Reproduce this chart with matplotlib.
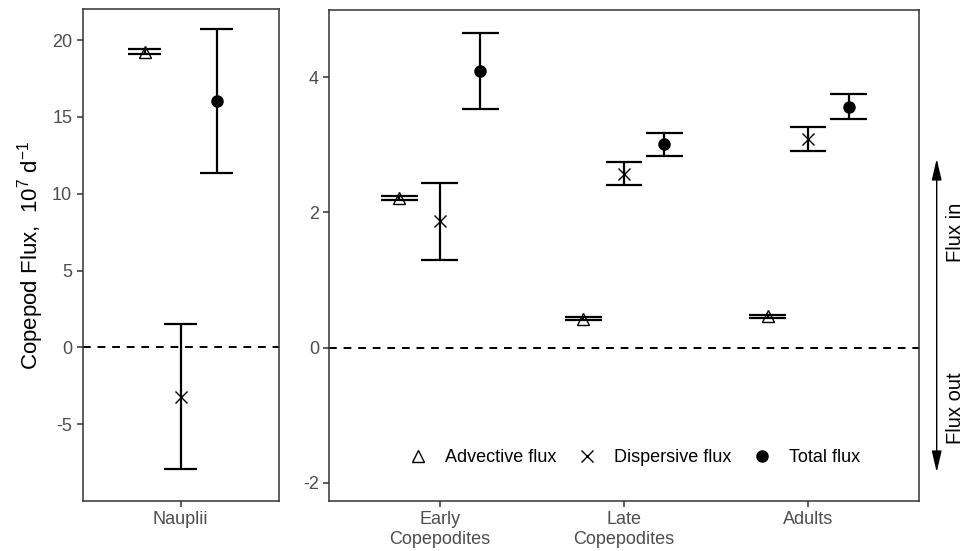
import matplotlib
matplotlib.use('Agg')
import matplotlib.pyplot as plt
from matplotlib.lines import Line2D
from matplotlib.patches import FancyArrowPatch

plt.rcParams['font.family'] = ['Liberation Sans', 'DejaVu Sans']
plt.rcParams['mathtext.fontset'] = 'custom'
plt.rcParams['mathtext.rm'] = 'Liberation Sans'
plt.rcParams['mathtext.it'] = 'Liberation Sans:italic'
plt.rcParams['mathtext.default'] = 'regular'
plt.rcParams['axes.unicode_minus'] = False

# flux estimates (10^7 per day) and their error half-widths, one per stage
stages = ['Nauplii', 'Early\nCopepodites', 'Late\nCopepodites', 'Adults']
advective = [19.25, 2.22, 0.43, 0.46]
advective_err = [0.15, 0.03, 0.02, 0.02]
dispersive = [-3.2, 1.87, 2.57, 3.09]
dispersive_err = [4.73, 0.57, 0.17, 0.18]
total = [16.03, 4.09, 3.01, 3.56]
total_err = [4.70, 0.565, 0.17, 0.185]

series = [
    ('Advective flux', advective, advective_err, -0.22,
     dict(marker='^', ms=9, mfc='none', mec='black', mew=1.0)),
    ('Dispersive flux', dispersive, dispersive_err, 0.0,
     dict(marker='x', ms=8, mec='black', mew=1.0)),
    ('Total flux', total, total_err, 0.22,
     dict(marker='o', ms=8, mfc='black', mec='black')),
]

TICK_COL = '#4d4d4d'
BOX_COL = '#333333'


def style_axes(ax):
    for s in ax.spines.values():
        s.set_color(BOX_COL)
        s.set_linewidth(1.1)
    ax.tick_params(colors=BOX_COL, labelcolor=TICK_COL, labelsize=13,
                   length=4, width=1.1)
    ax.axhline(0, color='black', lw=1.4, ls=(0, (4, 3.5)), zorder=1)


def draw_panel(ax, idx, xpos):
    for label, vals, errs, off, mstyle in series:
        for i, x0 in zip(idx, xpos):
            x = x0 + off
            lo, hi = vals[i] - errs[i], vals[i] + errs[i]
            ax.vlines(x, lo, hi, color='black', lw=1.6, zorder=2)
            ax.hlines([lo, hi], x - 0.1, x + 0.1, color='black', lw=1.6,
                      zorder=2)
            ax.plot([x], [vals[i]], ls='none', zorder=3, **mstyle)


fig = plt.figure(figsize=(9.78, 5.51), dpi=100)
ax1 = fig.add_axes([0.0844, 0.0907, 0.2007, 0.8924])
ax2 = fig.add_axes([0.3367, 0.0907, 0.6025, 0.8906])

draw_panel(ax1, [0], [1])
ax1.set_xlim(0.4, 1.6)
ax1.set_ylim(-10, 22)
ax1.set_xticks([1])
ax1.set_xticklabels(stages[:1])
ax1.set_yticks([-5, 0, 5, 10, 15, 20])
ax1.set_ylabel('Copepod Flux,  10$^{7}$ d$^{-1}$', fontsize=16,
               labelpad=4)
style_axes(ax1)

draw_panel(ax2, [1, 2, 3], [1, 2, 3])
ax2.set_xlim(0.4, 3.6)
ax2.set_ylim(-2.27, 4.99)
ax2.set_xticks([1, 2, 3])
ax2.set_xticklabels(stages[1:])
ax2.set_yticks([-2, 0, 2, 4])
style_axes(ax2)

handles = [Line2D([], [], ls='none', **s[4]) for s in series]
ax2.legend(handles, [s[0] for s in series], loc='center',
           bbox_to_anchor=(0.518, 0.088), ncol=3, frameon=False,
           fontsize=13, handlelength=1.0, handletextpad=1.0,
           columnspacing=1.2)

# flux direction arrow to the right of the panels
arrow = FancyArrowPatch((936.7 / 978, 1 - 475 / 551),
                        (936.7 / 978, 1 - 156 / 551),
                        transform=fig.transFigure,
                        arrowstyle='<|-|>,head_length=0.65,head_width=0.15',
                        mutation_scale=20, color='black', lw=1.0)
fig.add_artist(arrow)
fig.text(956 / 978, 1 - 232 / 551, 'Flux in', rotation=90, fontsize=14.5,
         ha='center', va='center')
fig.text(956 / 978, 1 - 408 / 551, 'Flux out', rotation=90, fontsize=14.5,
         ha='center', va='center')

fig.savefig('out.png', dpi=100)
